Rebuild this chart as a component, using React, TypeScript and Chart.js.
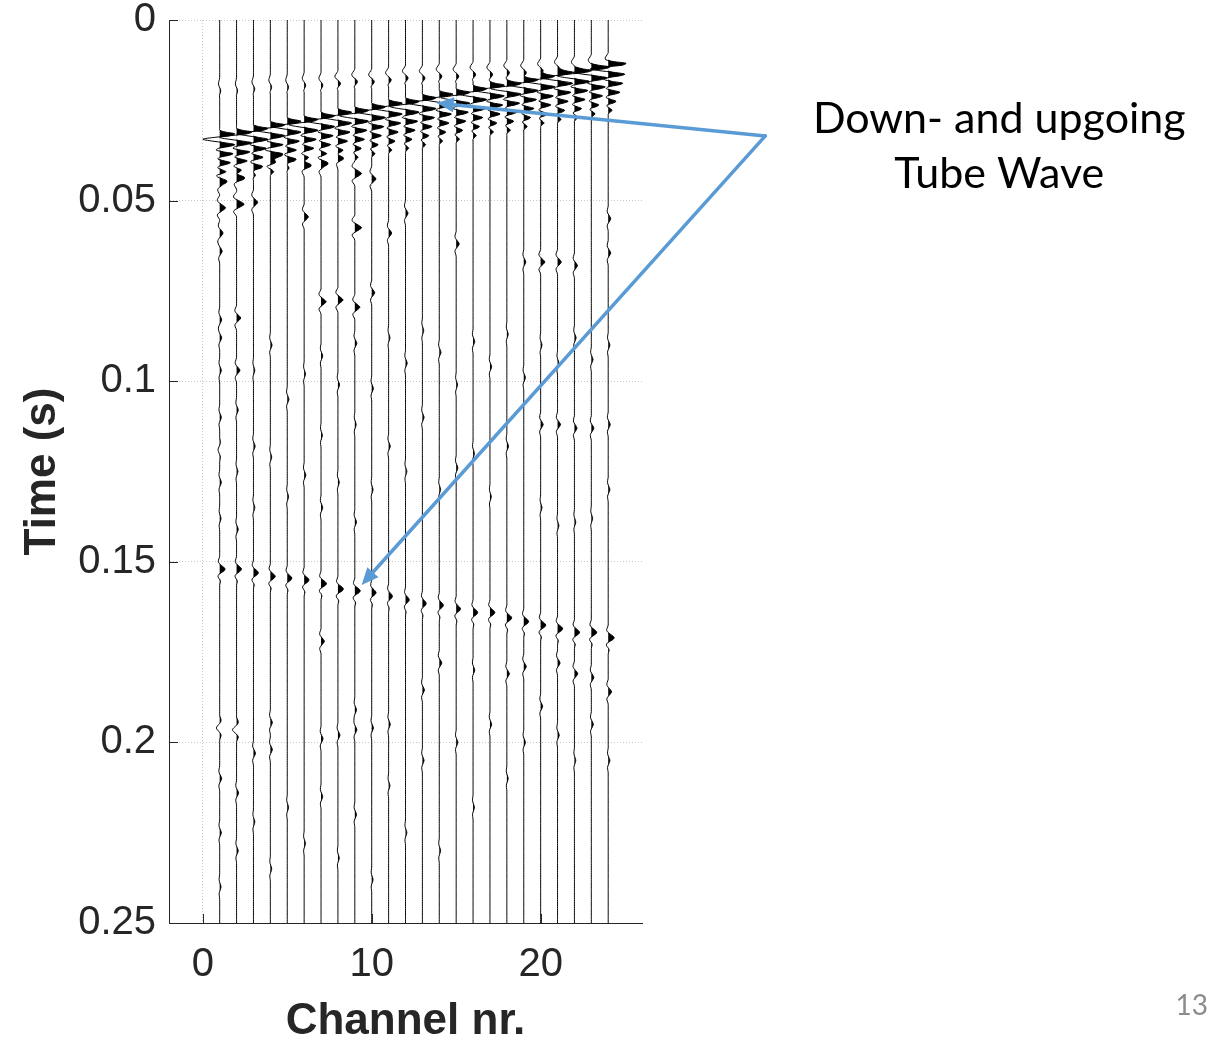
import { useEffect, useRef } from "react";
import { Chart, registerables } from "chart.js";

Chart.register(...registerables);

// ---- Record geometry -------------------------------------------------------
const CHANNELS = [1, 2, 3, 4, 5, 6, 7, 8, 9, 10, 11, 12, 13, 14, 15, 16, 17, 18, 19, 20, 21, 22, 23, 24];
const SAMPLE_DT = 0.0005; // s
const TRACE_END = 0.25; // s

const TIME_TICKS = [0, 0.05, 0.1, 0.15, 0.2, 0.25];
const TIME_TICK_LABELS = ["0", "0.05", "0.1", "0.15", "0.2", "0.25"];
const CHANNEL_TICKS = [0, 10, 20];
const CHANNEL_TICK_LABELS = ["0", "10", "20"];

// ---- Wavelets (amplitude in channel-spacing units, one value per sample) ---
const TUBE_WAVELET = [
  0, 0.3, 0.85, 0.6, -0.3, -0.95, -0.45, 0.3, 0.85, 0.55, -0.05, -0.2, 0.2, 0.75, 0.5, 0.0,
  -0.1, 0.25, 0.6, 0.35, -0.05, -0.1, 0.15, 0.4, 0.25, -0.05, -0.05, 0.1, 0.2, 0.1, 0,
];
const UP_WAVELET = [0, -0.03, -0.07, -0.08, -0.02, 0.1, 0.24, 0.32, 0.26, 0.1, -0.05, -0.1, -0.06, 0.02, 0.05, 0.02, 0];
const UP_PEAK_INDEX = 7;
const PRE_WAVELET = [0, -0.05, -0.12, -0.18, -0.15, -0.05, 0.08, 0.15, 0.12, 0.03, -0.04, 0];
const MINOR_WAVELET = [0, -0.15, -0.35, -0.4, -0.2, 0.25, 0.7, 1.0, 0.7, 0.25, -0.2, -0.4, -0.3, -0.1, 0];
const MINOR_PEAK_INDEX = 7;

// ---- Picked events per channel ---------------------------------------------
// Downgoing tube wave onset (s)
const DOWN_TUBE_ONSET = [
  0.0306, 0.0298, 0.0289, 0.0281, 0.0272, 0.0264, 0.0255, 0.0247, 0.0239, 0.023, 0.0222, 0.0213,
  0.0205, 0.0196, 0.0188, 0.018, 0.0171, 0.0163, 0.0154, 0.0146, 0.0137, 0.0129, 0.012, 0.0112,
];
const DOWN_TUBE_AMP = [
  1.05, 1.05, 1.0, 1.0, 0.95, 0.95, 0.95, 0.95, 0.95, 0.95, 0.95, 0.95,
  0.95, 0.95, 0.95, 0.95, 1.0, 1.0, 1.0, 1.0, 1.05, 1.05, 1.1, 1.15,
];
// Upgoing tube wave peak time (s)
const UP_TUBE_PEAK = [
  0.152, 0.152, 0.1531, 0.1542, 0.1545, 0.1551, 0.1559, 0.1573, 0.1578, 0.1586, 0.1597, 0.1606,
  0.1614, 0.162, 0.1628, 0.1639, 0.1639, 0.1656, 0.1664, 0.1675, 0.1683, 0.1694, 0.1697, 0.1711,
];
const UP_TUBE_AMP = [
  1.0, 0.9, 0.9, 0.9, 0.85, 0.9, 1.0, 1.0, 1.0, 0.8, 0.7, 0.7,
  0.7, 0.75, 0.8, 0.85, 0.9, 0.9, 0.9, 0.95, 0.95, 0.95, 1.0, 1.1,
];
// Weak precursor onset (s)
const PRE_ONSET = [
  0.016, 0.0158, 0.0156, 0.0152, 0.015, 0.0147, 0.0143, 0.014, 0.0137, 0.0133, 0.013, 0.0127,
  0.0124, 0.0122, 0.0119, 0.0117, 0.0114, 0.0111, 0.0108, 0.0105, 0.0102, 0.0099, 0.0095, 0.0092,
];
const PRE_AMP = [
  0.4, 0.4, 0.5, 0.5, 0.5, 0.6, 0.7, 1.0, 1.0, 1.0, 1.0, 1.0,
  1.0, 1.0, 1.0, 1.0, 1.0, 1.0, 1.0, 1.0, 1.0, 1.0, 1.0, 1.0,
];
// Smaller arrivals: [channel, peak time (s), peak amplitude]
const MINOR_EVENTS: [number, number, number][] = [
  [1, 0.0452, 0.3], [1, 0.0522, 0.35], [1, 0.059, 0.2], [1, 0.064, 0.15], [1, 0.083, 0.12],
  [1, 0.088, 0.12], [1, 0.097, 0.1], [1, 0.11, 0.1], [1, 0.119, -0.1], [1, 0.128, 0.1], [1, 0.138, 0.08],
  [1, 0.196, -0.2], [1, 0.21, 0.12], [1, 0.225, 0.1], [1, 0.24, 0.08],
  [2, 0.0437, 0.35], [2, 0.0508, 0.45], [2, 0.0825, 0.25], [2, 0.097, 0.2], [2, 0.108, 0.1],
  [2, 0.125, 0.08], [2, 0.141, 0.1], [2, 0.1965, -0.25], [2, 0.214, 0.12], [2, 0.23, 0.1],
  [3, 0.041, 0.2], [3, 0.0507, 0.25], [3, 0.097, 0.08], [3, 0.118, 0.1], [3, 0.135, 0.08],
  [3, 0.203, 0.12], [3, 0.222, 0.08],
  [4, 0.038, 0.5], [4, 0.09, 0.1], [4, 0.121, 0.08], [4, 0.1945, 0.12], [4, 0.202, 0.12], [4, 0.235, 0.08],
  [5, 0.039, 0.2], [5, 0.105, 0.1], [5, 0.132, 0.08], [5, 0.218, 0.08],
  [6, 0.0402, 0.3], [6, 0.0545, 0.25], [6, 0.098, 0.08], [6, 0.126, 0.1], [6, 0.228, 0.08],
  [7, 0.0402, 0.3], [7, 0.078, 0.3], [7, 0.093, 0.1], [7, 0.115, 0.08], [7, 0.135, 0.1],
  [7, 0.172, 0.2], [7, 0.199, 0.12], [7, 0.215, 0.1],
  [8, 0.038, 0.2], [8, 0.0775, 0.3], [8, 0.101, 0.1], [8, 0.128, 0.08], [8, 0.198, 0.12], [8, 0.232, 0.08],
  [9, 0.0424, 0.4], [9, 0.0577, 0.4], [9, 0.0794, 0.3], [9, 0.0894, 0.12], [9, 0.112, 0.08],
  [9, 0.139, 0.1], [9, 0.191, 0.1], [9, 0.1966, 0.12], [9, 0.22, 0.1],
  [10, 0.044, 0.25], [10, 0.0756, 0.18], [10, 0.102, 0.1], [10, 0.13, 0.08], [10, 0.196, 0.1], [10, 0.238, 0.08],
  [11, 0.059, 0.18], [11, 0.088, 0.08], [11, 0.118, 0.1], [11, 0.195, 0.1], [11, 0.212, 0.08],
  [12, 0.0535, 0.15], [12, 0.095, 0.1], [12, 0.125, 0.08], [12, 0.225, 0.08],
  [13, 0.086, 0.08], [13, 0.11, 0.1], [13, 0.1855, 0.12], [13, 0.205, 0.1],
  [14, 0.092, 0.1], [14, 0.13, 0.08], [14, 0.178, 0.15], [14, 0.23, 0.08],
  [15, 0.0618, 0.18], [15, 0.101, 0.08], [15, 0.124, 0.1], [15, 0.2, 0.1],
  [16, 0.089, 0.1], [16, 0.12, 0.08], [16, 0.18, 0.1], [16, 0.218, 0.08],
  [17, 0.096, 0.1], [17, 0.132, 0.08], [17, 0.195, 0.1],
  [18, 0.087, 0.08], [18, 0.118, 0.1], [18, 0.181, 0.15], [18, 0.21, 0.08],
  [19, 0.067, 0.12], [19, 0.099, 0.1], [19, 0.179, 0.15], [19, 0.2, 0.1],
  [20, 0.067, 0.25], [20, 0.09, 0.08], [20, 0.112, 0.15], [20, 0.135, 0.08], [20, 0.19, 0.12],
  [21, 0.067, 0.22], [21, 0.095, 0.08], [21, 0.112, 0.18], [21, 0.14, 0.08], [21, 0.178, 0.15], [21, 0.198, 0.1],
  [22, 0.068, 0.18], [22, 0.088, 0.1], [22, 0.113, 0.15], [22, 0.139, 0.08], [22, 0.181, 0.2], [22, 0.205, 0.08],
  [23, 0.094, 0.1], [23, 0.113, 0.15], [23, 0.138, 0.08], [23, 0.182, 0.15], [23, 0.195, 0.12],
  [24, 0.055, 0.15], [24, 0.0645, 0.15], [24, 0.09, 0.1], [24, 0.112, 0.12], [24, 0.13, 0.1],
  [24, 0.186, 0.2], [24, 0.205, 0.1],
];

// ---- Annotation ------------------------------------------------------------
const ANNOTATION_LINES = ["Down- and upgoing", "Tube Wave"];
const ANNOTATION_TEXT_CHANNEL = 47.15;
const ANNOTATION_TEXT_TIMES = [0.0313, 0.0465];
const ARROW_ORIGIN = { channel: 33.3, time: 0.0321 };
const ARROW_TIPS = [
  { channel: 13.85, time: 0.023 },
  { channel: 9.4, time: 0.1564 },
];
const SLIDE_NUMBER = "13";

const AXIS_COLOR = "#262626";
const ARROW_COLOR = "#5B9BD5";

function buildTrace(idx: number): number[] {
  const n = Math.round(TRACE_END / SAMPLE_DT) + 1;
  const amp = new Array(n).fill(0);
  const add = (wavelet: number[], onset: number, gain: number) => {
    const start = Math.round(onset / SAMPLE_DT);
    wavelet.forEach((w, k) => {
      const j = start + k;
      if (j >= 0 && j < n) amp[j] += w * gain;
    });
  };
  add(PRE_WAVELET, PRE_ONSET[idx], PRE_AMP[idx]);
  add(TUBE_WAVELET, DOWN_TUBE_ONSET[idx], DOWN_TUBE_AMP[idx]);
  add(UP_WAVELET, UP_TUBE_PEAK[idx] - UP_PEAK_INDEX * SAMPLE_DT, UP_TUBE_AMP[idx]);
  MINOR_EVENTS.filter((e) => e[0] === CHANNELS[idx]).forEach(([, t, a]) =>
    add(MINOR_WAVELET, t - MINOR_PEAK_INDEX * SAMPLE_DT, a)
  );
  return amp;
}

function buildDatasets() {
  const sets: any[] = [];
  CHANNELS.forEach((ch, idx) => {
    const amp = buildTrace(idx);
    sets.push({
      data: amp.map((a, j) => ({ x: ch + Math.max(a, 0), y: j * SAMPLE_DT })),
      borderWidth: 0,
      borderColor: "rgba(0,0,0,0)",
      backgroundColor: "#000",
      fill: { value: ch },
      pointRadius: 0,
      tension: 0.3,
    });
    sets.push({
      data: amp.map((a, j) => ({ x: ch + a, y: j * SAMPLE_DT })),
      borderWidth: 1,
      borderColor: "#000",
      backgroundColor: "#000",
      fill: false,
      pointRadius: 0,
      tension: 0.3,
    });
  });
  return sets;
}

function drawArrow(ctx: CanvasRenderingContext2D, x0: number, y0: number, x1: number, y1: number) {
  const ang = Math.atan2(y1 - y0, x1 - x0);
  const head = 17;
  const half = 7.5;
  const bx = x1 - head * Math.cos(ang);
  const by = y1 - head * Math.sin(ang);
  ctx.beginPath();
  ctx.moveTo(x0, y0);
  ctx.lineTo(bx, by);
  ctx.stroke();
  ctx.beginPath();
  ctx.moveTo(x1, y1);
  ctx.lineTo(bx + half * Math.sin(ang), by - half * Math.cos(ang));
  ctx.lineTo(bx - half * Math.sin(ang), by + half * Math.cos(ang));
  ctx.closePath();
  ctx.fill();
}

const decorPlugin = {
  id: "decor",
  afterDraw(chart: any) {
    const { ctx, chartArea: a } = chart;
    const x = chart.scales.x;
    const y = chart.scales.y;
    ctx.save();
    // inward tick marks
    ctx.strokeStyle = AXIS_COLOR;
    ctx.lineWidth = 1;
    ctx.beginPath();
    TIME_TICKS.forEach((v) => {
      const py = Math.round(y.getPixelForValue(v)) + 0.5;
      ctx.moveTo(a.left, py);
      ctx.lineTo(a.left + 9, py);
    });
    CHANNEL_TICKS.forEach((v) => {
      const px = Math.round(x.getPixelForValue(v)) + 0.5;
      ctx.moveTo(px, a.bottom);
      ctx.lineTo(px, a.bottom - 9);
    });
    ctx.stroke();

    // arrows
    ctx.strokeStyle = ARROW_COLOR;
    ctx.fillStyle = ARROW_COLOR;
    ctx.lineWidth = 3.5;
    ctx.lineCap = "round";
    const ox = x.getPixelForValue(ARROW_ORIGIN.channel);
    const oy = y.getPixelForValue(ARROW_ORIGIN.time);
    ARROW_TIPS.forEach((tip) => {
      drawArrow(ctx, ox, oy, x.getPixelForValue(tip.channel), y.getPixelForValue(tip.time));
    });

    // annotation text
    ctx.fillStyle = "#000";
    ctx.font = "43px Lato, 'Open Sans', sans-serif";
    ctx.textAlign = "center";
    ctx.textBaseline = "alphabetic";
    ANNOTATION_LINES.forEach((line, i) => {
      ctx.fillText(line, x.getPixelForValue(ANNOTATION_TEXT_CHANNEL), y.getPixelForValue(ANNOTATION_TEXT_TIMES[i]));
    });

    // slide number
    ctx.fillStyle = "#8c8c8c";
    ctx.font = "28px Lato, 'Open Sans', sans-serif";
    ctx.textAlign = "right";
    ctx.fillText(SLIDE_NUMBER, chart.width - 1, chart.height - 24);
    ctx.restore();
  },
};

export default function App() {
  const canvasRef = useRef<HTMLCanvasElement>(null);

  useEffect(() => {
    const canvas = canvasRef.current;
    if (!canvas) return;
    Chart.defaults.font.family = "'Liberation Sans', Arial, sans-serif";
    const chart = new Chart(canvas, {
      type: "line",
      data: { datasets: buildDatasets() },
      plugins: [decorPlugin],
      options: {
        animation: false,
        responsive: false,
        devicePixelRatio: 1,
        indexAxis: "y",
        events: [],
        layout: { padding: { left: 0, right: 567, top: 20, bottom: 0 } },
        plugins: {
          legend: { display: false },
          tooltip: { enabled: false },
        },
        elements: { point: { radius: 0 } },
        scales: {
          x: {
            type: "linear",
            position: "bottom",
            min: -2,
            max: 26,
            afterBuildTicks: (scale: any) => {
              scale.ticks = CHANNEL_TICKS.map((v) => ({ value: v }));
            },
            afterFit: (scale: any) => {
              scale.height = 116;
              scale.paddingLeft = 0;
              scale.paddingRight = 0;
            },
            ticks: {
              padding: 22,
              color: AXIS_COLOR,
              font: { size: 40, lineHeight: 1 },
              maxRotation: 0,
              autoSkip: false,
              callback: (v: any) => CHANNEL_TICK_LABELS[CHANNEL_TICKS.indexOf(Number(v))] ?? "",
            },
            grid: { color: "rgba(0,0,0,0.22)", lineWidth: 1, drawTicks: false },
            border: { display: true, color: AXIS_COLOR, width: 1, dash: [1, 2] },
            title: {
              display: true,
              text: "Channel nr.",
              color: AXIS_COLOR,
              font: { size: 44, weight: "bold", lineHeight: 0.8 },
              padding: { top: 0, bottom: 0 },
            },
          },
          y: {
            type: "linear",
            position: "left",
            reverse: true,
            min: 0,
            max: TRACE_END,
            afterBuildTicks: (scale: any) => {
              scale.ticks = TIME_TICKS.map((v) => ({ value: v }));
            },
            afterFit: (scale: any) => {
              scale.width = 169;
              scale.paddingTop = 0;
              scale.paddingBottom = 0;
            },
            ticks: {
              padding: 13,
              color: AXIS_COLOR,
              font: { size: 40, lineHeight: 1 },
              autoSkip: false,
              callback: (v: any) => TIME_TICK_LABELS[TIME_TICKS.indexOf(Number(v))] ?? "",
            },
            grid: { color: "rgba(0,0,0,0.22)", lineWidth: 1, drawTicks: false },
            border: { display: true, color: AXIS_COLOR, width: 1, dash: [1, 2] },
            title: {
              display: true,
              text: "Time (s)",
              color: AXIS_COLOR,
              font: { size: 44, weight: "bold", lineHeight: 1 },
              padding: { top: 21, bottom: 0 },
            },
          },
        },
      } as any,
    });
    return () => chart.destroy();
  }, []);

  return (
    <div style={{ position: "fixed", left: 0, top: 0, width: 1209, height: 1039, background: "#fff" }}>
      <canvas ref={canvasRef} width={1209} height={1039} style={{ display: "block", width: 1209, height: 1039 }} />
    </div>
  );
}
